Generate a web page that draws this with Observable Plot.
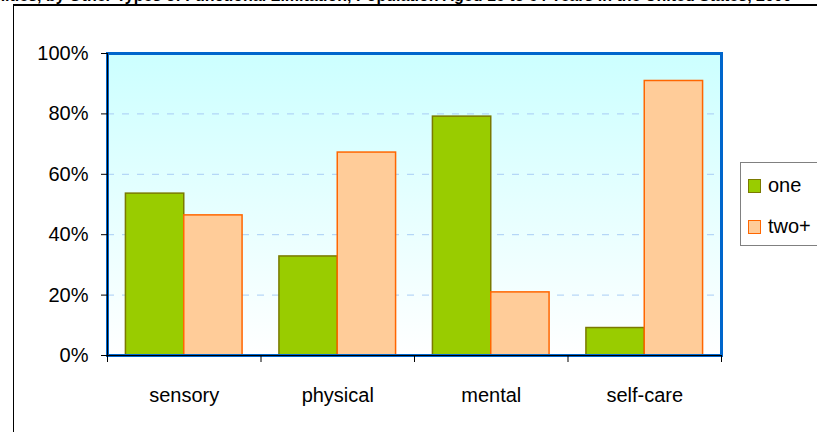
<!DOCTYPE html>
<html>
<head>
<meta charset="utf-8">
<script src="https://cdn.jsdelivr.net/npm/d3@7"></script>
<script src="https://cdn.jsdelivr.net/npm/@observablehq/plot@0.6"></script>
<style>
  body { margin: 0; background: #fff; }
  #wrap { position: relative; width: 817px; height: 432px; overflow: hidden; font-family: "Liberation Sans", Arial, sans-serif; color: #000; }
  #title { position: absolute; top: -13.2px; left: 0; white-space: nowrap; font-weight: bold; font-size: 16px; line-height: 18px; }
  #border { position: absolute; left: 13px; top: 4px; width: 900px; height: 500px; border-top: 2px solid #000; border-left: 1px solid #000; }
  #chart { position: absolute; left: 0; top: 0; }
  #legend { position: absolute; left: 740px; top: 162px; width: 110px; height: 84px; border: 1px solid #808080; box-sizing: border-box; background: #fff; }
  .sw { position: absolute; left: 7px; width: 13px; height: 14px; box-sizing: border-box; border: 1.5px solid; }
  .lt { position: absolute; left: 27px; font-size: 20px; line-height: 20px; white-space: nowrap; }
</style>
</head>
<body>
<div id="wrap">
  <div id="chart"></div>
  <div id="title"><span id="t1">Persons With One or Two or More Disabilities, </span><span>by Other Types of Functional Limitation, Population Aged 16 to 64 Years in the United States, 2000</span></div>
  <div id="border"></div>
  <div id="legend"></div>
</div>
<script>
// ---- data ----
const categories = ["sensory", "physical", "mental", "self-care"];
const series = ["one", "two+"];
const oneValues = [0.536, 0.328, 0.791, 0.091];
const twoValues = [0.464, 0.672, 0.209, 0.909];
const yTicks = [0, 0.2, 0.4, 0.6, 0.8, 1];
const gridTicks = [0.2, 0.4, 0.6, 0.8];

// ---- styles ----
const fills = { "one": "#99CC00", "two+": "#FFCC99" };
const strokes = { "one": "#7A7A00", "two+": "#FF6600" };

const data = categories.flatMap((c, i) => [
  { cat: c, i, series: "one", value: oneValues[i] },
  { cat: c, i, series: "two+", value: twoValues[i] }
]);

// position of each bar within its category slot
const slot = { "one": [0.12, 0.5], "two+": [0.5, 0.88] };

const svgNS = "http://www.w3.org/2000/svg";
function gradientDefs() {
  const g = document.createElementNS(svgNS, "g");
  const defs = document.createElementNS(svgNS, "defs");
  const lg = document.createElementNS(svgNS, "linearGradient");
  lg.setAttribute("id", "plotBg");
  lg.setAttribute("x1", "0"); lg.setAttribute("y1", "0");
  lg.setAttribute("x2", "0"); lg.setAttribute("y2", "1");
  const s1 = document.createElementNS(svgNS, "stop");
  s1.setAttribute("offset", "0"); s1.setAttribute("stop-color", "#CCFFFF");
  const s2 = document.createElementNS(svgNS, "stop");
  s2.setAttribute("offset", "1"); s2.setAttribute("stop-color", "#FFFFFF");
  lg.appendChild(s1); lg.appendChild(s2);
  defs.appendChild(lg); g.appendChild(defs);
  return g;
}

const chart = Plot.plot({
  width: 817,
  height: 432,
  marginLeft: 107,
  marginRight: 96,
  marginTop: 53,
  marginBottom: 77,
  style: { fontFamily: "'Liberation Sans', Arial, sans-serif", color: "#000", background: "transparent", overflow: "visible" },
  x: { type: "linear", domain: [0, categories.length], axis: null, label: null },
  y: { domain: [0, 1], axis: null, label: null },
  marks: [
    gradientDefs,
    Plot.frame({ fill: "url(#plotBg)", stroke: null }),
    Plot.ruleY(gridTicks, { stroke: "#A9CDF5", strokeWidth: 1, strokeDasharray: "7,8" }),
    Plot.rectY(data, {
      x1: d => d.i + slot[d.series][0],
      x2: d => d.i + slot[d.series][1],
      y1: 0,
      y2: "value",
      fill: d => fills[d.series],
      stroke: d => strokes[d.series],
      strokeWidth: 1.5
    }),
    Plot.frame({ stroke: "#0066CC", strokeWidth: 3 }),
    Plot.ruleX([0], { stroke: "#000", strokeWidth: 1 }),
    Plot.ruleY([0], { stroke: "#000", strokeWidth: 1 }),
    Plot.axisY(yTicks, { tickSize: 6, tickPadding: 13, tickFormat: d3.format(".0%"), fontSize: 20, label: null }),
    Plot.axisX(d3.range(categories.length + 1), { tickSize: 7, tickFormat: () => "", label: null }),
    Plot.axisX(categories.map((c, i) => i + 0.5), { tickSize: 0, tickPadding: 32, tickFormat: d => categories[Math.floor(d)], fontSize: 20, label: null })
  ]
});
document.getElementById("chart").appendChild(chart);

// title placement (only its lower edge shows, as in the reference)
const t1 = document.getElementById("t1");
document.getElementById("title").style.left = (46 - t1.getBoundingClientRect().width) + "px";

// legend
const legend = document.getElementById("legend");
const swTops = [15.5, 56.5];
const txtTops = [11.5, 53];
series.forEach((s, k) => {
  const sw = document.createElement("div");
  sw.className = "sw";
  sw.style.top = swTops[k] + "px";
  sw.style.background = fills[s];
  sw.style.borderColor = strokes[s];
  legend.appendChild(sw);
  const t = document.createElement("div");
  t.className = "lt";
  t.style.top = txtTops[k] + "px";
  t.textContent = s;
  legend.appendChild(t);
});
</script>
</body>
</html>
